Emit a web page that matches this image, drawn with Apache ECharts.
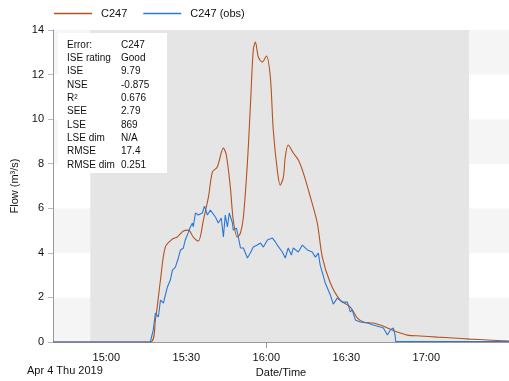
<!DOCTYPE html>
<html>
<head>
<meta charset="utf-8">
<script src="https://cdn.jsdelivr.net/npm/echarts@6/dist/echarts.min.js"></script>
<style>html,body{margin:0;padding:0;background:#fff}#c{width:509px;height:381px}</style>
</head>
<body>
<div id="c"></div>
<script>
// times are minutes after 14:00 on Apr 4 2019
var simTime = [40,76.5,78.4,80.3,82.1,84.8,86.6,88.9,90.8,92.6,94.5,96.4,98.3,99.8,101.6,103.9,105.0,106.5,107.6,109.1,110.3,111.4,112.9,114.0,115.1,115.9,117.0,118.5,120.0,121.5,122.6,124.1,125.2,126.4,127.1,128.2,130.1,132.0,133.9,136.5,139.1,141.0,144.0,147.7,151.5,154.1,156.4,160.1,162.7,165.4,169.1,172.9,177.7,184.1,190.1,196.5,202.9,211];
var simFlow = [0,0,0.99,2.78,4.26,4.62,4.71,4.98,5.02,4.71,4.53,5.47,6.51,7.63,7.85,8.70,8.39,6.95,5.47,4.71,4.89,5.61,8.03,10.54,13.10,13.46,12.79,12.56,12.83,11.89,9.51,7.72,7.04,7.40,8.30,8.84,8.48,8.17,7.58,6.51,5.34,3.81,2.65,1.88,1.57,1.08,0.90,0.85,0.76,0.63,0.45,0.31,0.27,0.22,0.18,0.13,0.09,0.04];
var obsTime = [40,76.5,77.6,78.4,79.5,80.3,81.4,82.9,84.0,84.8,85.9,87.0,87.8,88.9,89.6,90.8,91.5,92.3,92.6,93.4,94.5,96.0,96.8,97.9,99.0,100.9,102.0,103.1,103.9,104.6,105.4,106.1,107.3,107.6,108.8,109.5,110.3,111.4,112.9,114.0,115.1,116.6,117.8,118.9,120.4,122.2,123.4,124.1,126.0,127.1,128.2,129.4,130.1,132.0,133.5,135.4,137.2,138.4,139.5,140.2,142.1,144.0,145.1,146.6,148.5,150.4,151.5,152.2,153.4,155.2,157.9,160.1,162.7,163.9,165.4,166.5,167.6,168.3,168.5,211];
var obsFlow = [0,0,0.54,1.30,1.12,1.88,1.75,2.47,2.78,3.23,3.36,3.77,4.13,4.22,4.58,4.93,5.16,5.34,5.16,5.79,5.70,5.79,6.10,5.70,5.92,5.61,5.34,5.56,4.71,5.70,5.16,5.79,5.34,5.02,5.11,4.71,4.22,4.22,3.77,3.99,4.26,4.35,4.44,4.26,4.58,4.67,4.49,4.35,4.04,3.77,4.22,3.90,4.22,4.04,4.35,4.13,4.04,3.81,3.99,3.45,2.65,2.11,1.70,1.97,1.79,1.79,1.35,1.44,0.99,0.90,0.85,0.76,0.67,0.63,0.31,0.54,0.63,0.30,0.02,0.02];
var xTickLabels = [60,90,120,150,180];
var shadedRange = [54,196];
var statLabels = ['Error:','ISE rating','ISE','NSE','R\u00b2','SEE','LSE','LSE dim','RMSE','RMSE dim'];
var statValues = ['C247','Good','9.79','-0.875','0.676','2.79','869','N/A','17.4','0.251'];

function pairs(t, v){ return t.map(function(x,i){ return [x, v[i]]; }); }
function fmt(m){ var h = Math.floor(m/60)+14, mm = Math.round(m%60); return h + ':' + (mm<10?'0':'') + mm; }

var FONT = 'Liberation Sans, Arial, sans-serif';
var SIM_COLOR = '#b4521c', OBS_COLOR = '#2a78d4';
var chart = echarts.init(document.getElementById('c'), null, {renderer:'canvas'});

var statGraphics = [{type:'rect', shape:{x:58, y:33, width:109, height:140}, style:{fill:'#ffffff'}, z:50}];
statLabels.forEach(function(l,i){
  statGraphics.push({type:'text', x:67, y:45+i*13.33, style:{text:l, fill:'#111', font:'10px ' + FONT, verticalAlign:'middle'}, z:51});
  statGraphics.push({type:'text', x:121, y:45+i*13.33, style:{text:statValues[i], fill:'#111', font:'10px ' + FONT, verticalAlign:'middle'}, z:51});
});
statGraphics.push({type:'text', x:27, y:371, style:{text:'Apr 4 Thu 2019', fill:'#111', font:'11px ' + FONT, verticalAlign:'middle'}, z:51});

chart.setOption({
  animation:false,
  textStyle:{fontFamily:FONT},
  color:[SIM_COLOR, OBS_COLOR],
  grid:{left:53, right:0, top:30, bottom:39, outerBoundsMode:'none', containLabel:false},
  legend:{
    left:54, top:8, padding:0, itemWidth:38, itemHeight:1.5, itemGap:16, icon:'rect',
    textStyle:{fontSize:11, color:'#111', fontFamily:FONT, padding:[0,0,0,4]},
    data:['C247','C247 (obs)']
  },
  xAxis:{
    type:'value', min:40, max:211,
    name:'Date/Time', nameLocation:'middle', nameGap:24,
    nameTextStyle:{fontSize:11, color:'#111', fontFamily:FONT},
    axisLine:{show:true, lineStyle:{color:'#999', width:1}},
    axisTick:{show:true, length:6, lineStyle:{color:'#999'}, customValues:[120]},
    axisLabel:{customValues:xTickLabels, formatter:fmt, fontSize:11, color:'#111', margin:10, fontFamily:FONT},
    splitLine:{show:false}
  },
  yAxis:{
    type:'value', min:0, max:14, interval:2,
    name:'Flow (m\u00b3/s)', nameLocation:'middle', nameGap:20,
    nameTextStyle:{fontSize:11, color:'#111', fontFamily:FONT},
    axisLine:{show:true, lineStyle:{color:'#999', width:1}},
    axisTick:{show:true, length:5, lineStyle:{color:'#bbb'}},
    axisLabel:{fontSize:11, color:'#111', margin:9, fontFamily:FONT},
    splitLine:{show:false},
    splitArea:{show:true, areaStyle:{color:['#f5f5f5','#ffffff']}}
  },
  graphic: statGraphics,
  series:[
    {type:'line', name:'C247', data:pairs(simTime, simFlow), showSymbol:false, smooth:0.3, z:3,
     lineStyle:{color:SIM_COLOR, width:1.1}, itemStyle:{color:SIM_COLOR},
     markArea:{silent:true, itemStyle:{color:'#e5e5e5'}, data:[[{xAxis:shadedRange[0]},{xAxis:shadedRange[1]}]]}},
    {type:'line', name:'C247 (obs)', data:pairs(obsTime, obsFlow), showSymbol:false, z:4,
     lineStyle:{color:OBS_COLOR, width:1.1}, itemStyle:{color:OBS_COLOR}}
  ]
});
</script>
</body>
</html>
